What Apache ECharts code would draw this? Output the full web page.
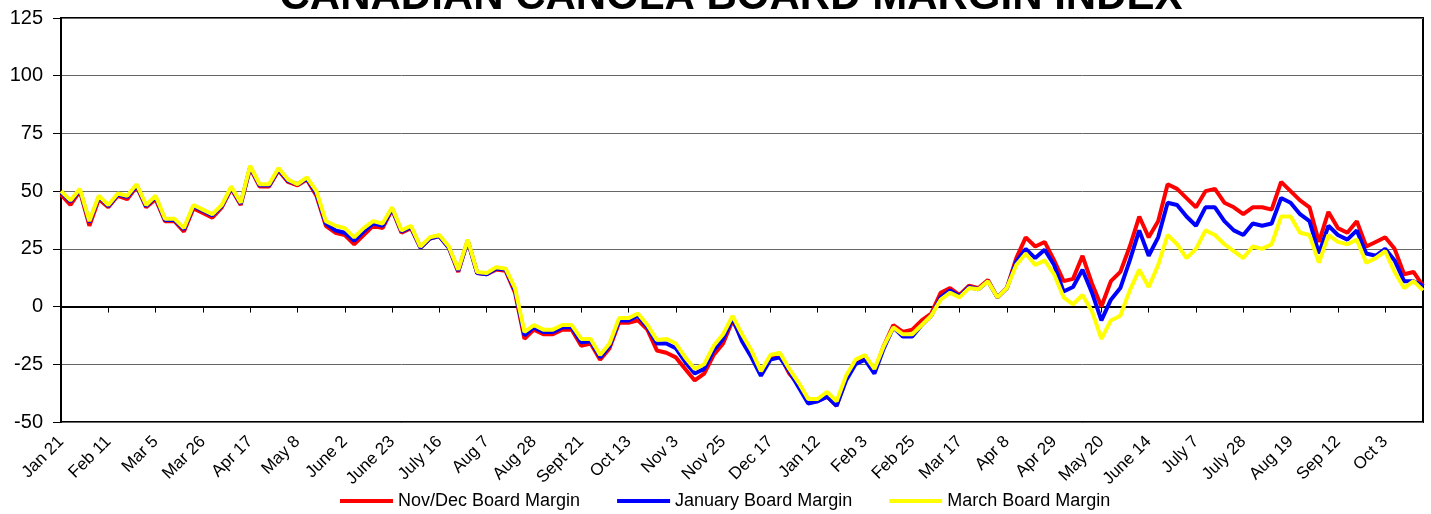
<!DOCTYPE html>
<html><head><meta charset="utf-8">
<script src="https://cdn.jsdelivr.net/npm/echarts@6/dist/echarts.min.js"></script>
<style>html,body{margin:0;padding:0;background:#fff;}#c{width:1431px;height:514px;}</style>
</head><body><div id="c"></div>
<script>
const tickLabels = ['Jan 21','Feb 11','Mar 5','Mar 26','Apr 17','May 8','June 2','June 23','July 16','Aug 7','Aug 28','Sept 21','Oct 13','Nov 3','Nov 25','Dec 17','Jan 12','Feb 3','Feb 25','Mar 17','Apr 8','Apr 29','May 20','June 14','July 7','July 28','Aug 19','Sep 12','Oct 3'];

const novDec = [48.5,44,50,35,46.5,43,48,46.5,52,43,46.5,37,37,32.5,42.5,40.5,38.5,43,51,44,
60,52,52,59,54,52.5,55,48,35,32,31,27,31,35,34,42,32,34,25.5,29.5,
30.5,25.5,15,28.5,14.5,14,16,15.5,6,-14,-10,-12,-12,-10,-10,-17,-16,-23,-18,-7,
-7,-6,-10,-19,-20,-22,-27,-32,-29,-21,-16,-6,-14,-21,-29,-22,-21,-29,-34,-41,
-41,-39,-43,-31,-24,-22,-28,-17,-8,-11,-10,-6,-3,6,8,5,9,8,11.5,4,
8,21,30,26,28,20,11,12,22,10,0,11,15,26,39,30,37,53,51,47,
43,50,51,45,43,40,43,43,42,54,50,46,43,28,41,34,32,37,26,28,
30,25,14,15,9];

const january = [49.5,45.5,50.5,36.5,47.5,43.5,48.5,47.5,52.5,43.5,47.5,37.5,37.5,33.5,43.5,41.5,39.5,43.5,51.5,44.5,
60.5,52.5,52.5,59.5,54.5,53,55.5,49,36,33,32,28.5,32.5,36,35,42.5,32.5,34.5,25.5,29.5,
30.5,25.5,15.5,28.5,14.5,14,16.5,16,7,-12.5,-9,-11,-11,-9,-9,-15.5,-15,-22,-17,-6,
-6,-4,-9,-16,-16,-18,-24,-29,-27,-19,-14,-5,-15,-22,-30,-23,-22,-28,-35,-42,
-41,-39,-43,-32,-25,-23,-29,-18,-9,-13,-13,-8,-4,4,7,4.5,8.5,7.5,11,4,
8,19.5,25,21,24.6,18,6.5,8.5,16,6,-6,3,8,20,33,22,30,45,44,39,
35,43,43,37,33,31,36,35,36,47,45,40,37,23,35,31,29,33,23,22,
25,20,11,11,9];

const march = [50,46,51,37,48,44,49,48,53,44,48,38,38,34,44,42,40,44,52,45,
61,53,53,60,55,53,56,50,37,35,34,30,34,37,36,43,33,35,26,30,
31,26,16,29,15,14.5,17,16.5,8,-11,-8,-10,-10,-8,-8,-14,-14,-21,-16,-5,
-5,-3,-8,-14.5,-14,-16,-22,-27,-25,-17,-12,-4,-12,-19,-28,-21,-20,-27,-33,-40,
-40,-37,-41,-30,-23,-21,-27,-17,-9,-12,-12,-8,-4,3,6,4,8,7.5,11,4,
8,18,23,18,20,14,4,1,5,-2,-14,-6,-4,7,16,8.5,18,31,27,21,
25,33,31,27,24,21,26,25,27,39,39,32,31,19,31,28,27,29,19,21,
24,15,8,11,7];

const seriesNames = ['Nov/Dec Board Margin','January Board Margin','March Board Margin'];
const seriesColors = ['#FF0000','#0000FF','#FFFF00'];
const STEP = 5;
const categories = novDec.map((_, i) => (i % STEP === 0 ? (tickLabels[i / STEP] || '') : ''));

const chart = echarts.init(document.getElementById('c'), null, {renderer: 'canvas'});
const FONT = 'Liberation Sans, Arial, sans-serif';
chart.setOption({
  animation: false,
  backgroundColor: '#fff',
  graphic: [{
    type: 'text', x: 731, y: -3, z: 10,
    style: {text: 'CANADIAN CANOLA BOARD MARGIN INDEX', fill: '#000', font: 'bold 42px ' + FONT, textAlign: 'center', textVerticalAlign: 'middle'}
  }],
  legend: {
    left: 335, top: 487, itemWidth: 53, itemHeight: 4, itemGap: 37, icon: 'rect',
    textStyle: {fontFamily: FONT, fontSize: 18, color: '#000'},
    data: seriesNames
  },
  grid: {left: 61, right: 8, top: 18, bottom: 92, show: true, borderColor: '#000', borderWidth: 2},
  xAxis: {
    type: 'category', boundaryGap: false, data: categories,
    axisLine: {lineStyle: {color: '#000', width: 2}},
    axisTick: {interval: STEP - 1, length: 6, lineStyle: {color: '#000'}},
    axisLabel: {interval: STEP - 1, rotate: 45, margin: 17, fontFamily: FONT, fontSize: 17, color: '#000'},
    splitLine: {show: false}
  },
  yAxis: {
    type: 'value', min: -50, max: 125, interval: 25,
    axisLine: {show: true, lineStyle: {color: '#000', width: 2}},
    axisTick: {show: true, length: 8, lineStyle: {color: '#000'}},
    axisLabel: {margin: 18, fontFamily: FONT, fontSize: 20, color: '#000'},
    splitLine: {lineStyle: {color: '#666', width: 1}}
  },
  series: seriesNames.map((n, k) => ({
    name: n, type: 'line', symbol: 'none', showSymbol: false,
    data: [novDec, january, march][k],
    lineStyle: {color: seriesColors[k], width: 4},
    itemStyle: {color: seriesColors[k]}
  }))
});
</script></body></html>
